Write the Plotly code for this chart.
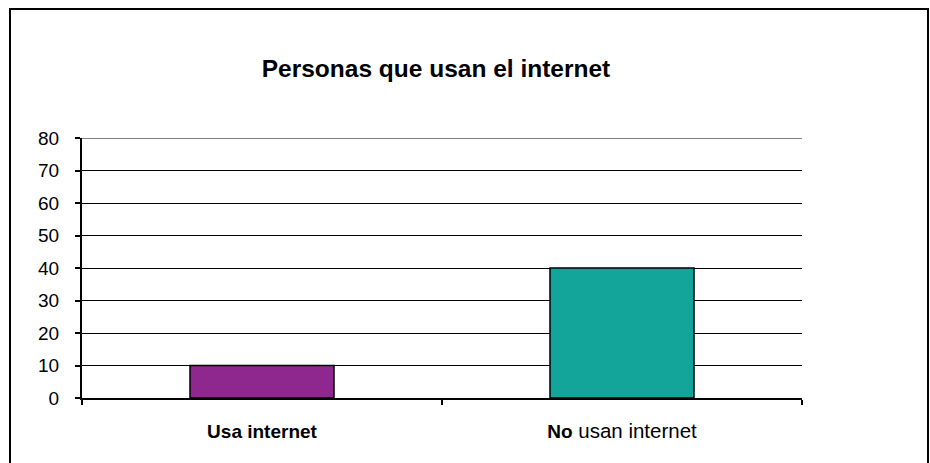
import plotly.graph_objects as go

# Survey result: people who use the internet vs. those who don't
categories = ["Usa internet", "No usan internet"]
tick_labels = [
    "<b>Usa internet</b>",
    "<b>No</b><span style='font-size:20.5px'> usan internet</span>",
]
values = [10, 40]
bar_colors = ["#8E278E", "#13A59A"]
y_ticks = [0, 10, 20, 30, 40, 50, 60, 70, 80]

W, H = 930, 463
ML, MR, MT, MB = 82, 128, 138, 65
PW = W - ML - MR
PH = H - MT - MB

fig = go.Figure(
    go.Bar(
        x=categories,
        y=values,
        marker=dict(color=bar_colors, line=dict(color="black", width=1.5)),
        width=0.4,
        showlegend=False,
    )
)

FONT = "Liberation Sans, Arial, sans-serif"

fig.update_layout(
    width=W,
    height=H,
    margin=dict(l=ML, r=MR, t=MT, b=MB, pad=0),
    paper_bgcolor="white",
    plot_bgcolor="white",
    font=dict(family=FONT, color="black", size=18),
    title=dict(
        text="<b>Personas que usan el internet</b>",
        font=dict(family=FONT, size=24.5, color="black"),
        x=436 / W,
        xanchor="center",
        y=1 - 68 / H,
        yanchor="middle",
    ),
    bargap=0.6,
)

fig.update_xaxes(
    tickmode="array",
    tickvals=categories,
    ticktext=tick_labels,
    tickson="boundaries",
    ticks="outside",
    ticklen=5,
    tickwidth=2,
    tickcolor="black",
    showline=True,
    linecolor="black",
    linewidth=2,
    showgrid=False,
    tickfont=dict(family=FONT, size=19, color="black"),
    ticklabelstandoff=15,
)

fig.update_yaxes(
    range=[0, 80],
    tickmode="array",
    tickvals=y_ticks,
    ticks="outside",
    ticklen=5,
    tickwidth=2,
    tickcolor="black",
    showline=True,
    linecolor="black",
    linewidth=2,
    showgrid=True,
    gridcolor="black",
    gridwidth=1,
    zeroline=False,
    tickfont=dict(family=FONT, size=19, color="black"),
    ticklabelstandoff=12,
)

# Gridline along the top of the value range
fig.add_shape(
    type="line",
    xref="paper",
    yref="y",
    x0=0,
    x1=1,
    y0=y_ticks[-1],
    y1=y_ticks[-1],
    line=dict(color="black", width=1),
    layer="below",
)

# Outer chart frame (bottom edge runs past the page)
fig.add_shape(
    type="rect",
    xref="paper",
    yref="paper",
    x0=(10 - ML) / PW,
    x1=(928 - ML) / PW,
    y0=(H - MB - 480) / PH,
    y1=(H - MB - 9) / PH,
    line=dict(color="black", width=2),
    fillcolor="rgba(0,0,0,0)",
    layer="above",
)

fig.write_html("out.html")
